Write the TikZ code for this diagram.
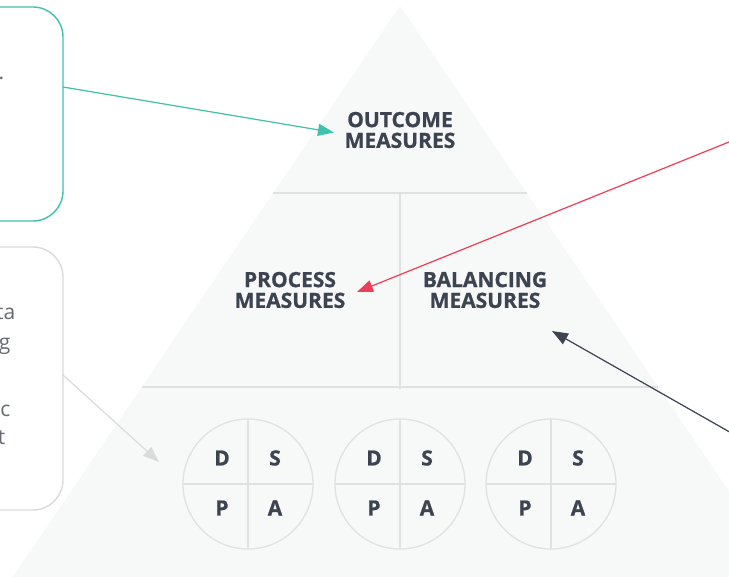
\documentclass[tikz,border=0pt]{standalone}
\usepackage{fontspec}
\setmainfont{Open Sans}
\newfontfamily\heavyfont{Open Sans}[BoldFeatures={FakeBold=0.8}]
\usetikzlibrary{arrows.meta}
\definecolor{ink}{HTML}{3D4451}
\definecolor{bodytext}{HTML}{666A71}
\definecolor{pyrfill}{HTML}{F7F8F8}
\definecolor{divider}{HTML}{E0E1E1}
\definecolor{accentteal}{HTML}{40C1AE}
\definecolor{accentred}{HTML}{EF3E56}
\definecolor{softgray}{HTML}{DADBDB}
\begin{document}
\begin{tikzpicture}[x=1pt,y=-1pt,
  lbl/.style={text=ink, align=center, inner sep=0pt,
    font=\heavyfont\bfseries\fontsize{21}{20.8}\selectfont},
  quad/.style={text=ink, inner sep=0pt, font=\heavyfont\bfseries\fontsize{21}{20.8}\selectfont},
  frag/.style={text=bodytext, inner sep=0pt, anchor=base east,
    font=\fontsize{21}{24}\selectfont},
  divline/.style={draw=divider, line width=1.4pt},
  callout/.style={rounded corners=30pt, line width=1.4pt, fill=white},
  pointer/.style={line width=1.2pt, -{Triangle[length=16pt,width=12pt]}}
]
\clip (0,0) rectangle (729,577);
\fill[white] (0,0) rectangle (729,577);

% pyramid body and its dividers
\fill[pyrfill] (400,6) -- (-2.6,600) -- (802.6,600) -- cycle;
\draw[divline] (273.3,193) -- (526.7,193);
\draw[divline] (141.8,387) -- (658.2,387);
\draw[divline] (400,193) -- (400,389);

% tier labels
\node[lbl] (outcome) at (400,130) {OUTCOME\\MEASURES};
\node[lbl] (process) at (290,290) {PROCESS\\MEASURES};
\node[lbl] (balancing) at (485,290) {BALANCING\\MEASURES};

% PDSA cycles
\foreach \cx/\id in {248/a,400/b,551/c}{
  \draw[divider, line width=1.3pt] (\cx,484) circle[radius=65];
  \draw[divider, line width=1.3pt] (\cx-65,484) -- (\cx+65,484);
  \draw[divider, line width=1.3pt] (\cx,419) -- (\cx,549);
  \node[quad] (d\id) at (\cx-26,458) {D};
  \node[quad] (s\id) at (\cx+27,458) {S};
  \node[quad] (p\id) at (\cx-26,508) {P};
  \node[quad] (q\id) at (\cx+27,508) {A};
}

% callout boxes on the left
\draw[callout, draw=accentteal] (-240,7) rectangle (63,221);
\coordinate (box1) at (63,87);
\node[frag] (dot1) at (4.5,80) {.};

\draw[callout, draw=softgray] (-240,247) rectangle (63,510);
\coordinate (box2) at (63,375);
\node[frag] (f1) at (15.5,320) {ta};
\node[frag] (f2) at (10.5,350) {g};
\node[frag] (f3) at (10.5,417) {c};
\node[frag] (f4) at (5.5,445) {t};

% pointers into the pyramid
\coordinate (tipOutcome) at (334,132.5);
\coordinate (tipProcess) at (357,292);
\coordinate (tipBalancing) at (552,331);
\coordinate (tipCycles) at (159,462);
\coordinate (redSrc) at (760,129.5);
\coordinate (darkSrc) at (760,449.3);

\draw[pointer, draw=accentteal, fill=accentteal] (box1) -- (tipOutcome);
\draw[pointer, draw=accentred, fill=accentred] (redSrc) -- (tipProcess);
\draw[pointer, draw=ink, fill=ink] (darkSrc) -- (tipBalancing);
\draw[pointer, draw=softgray, fill=softgray] (box2) -- (tipCycles);
\end{tikzpicture}
\end{document}
